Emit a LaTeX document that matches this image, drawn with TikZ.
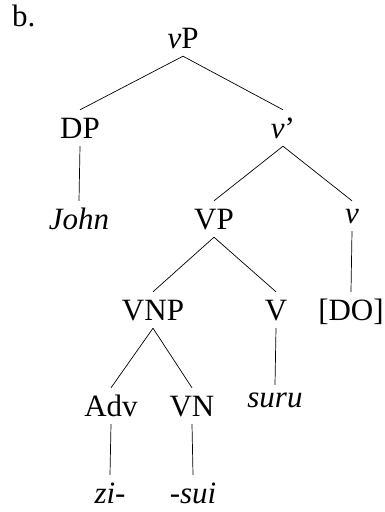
\documentclass[tikz,border=0pt]{standalone}
\usepackage{fontspec}
\setmainfont{Liberation Serif}
\begin{document}
\begin{tikzpicture}[
    x=1pt, y=-1pt,
    cat/.style={anchor=base, inner xsep=0pt, inner ysep=8pt, text height=20pt, text depth=0pt, font=\fontsize{31}{37}\selectfont},
    word/.style={cat, font=\fontsize{31}{37}\selectfont\itshape},
    small/.style={text height=14pt},
    branch/.style={draw, line width=0.7pt}
]
\useasboundingbox (0,0) rectangle (385,512);

% Example label
\node[cat, anchor=base west] (label) at (12,26) {b.};

% Top of the tree
\node[cat] (vP) at (183,48) {\textit{v}P};
\node[cat] (DP) at (80,138) {DP};
\node[cat] (vbar) at (283,138) {\textit{v}’};
\node[word] (john) at (79,229) {John};

% Verb phrase
\node[cat] (VP) at (214,229) {VP};
\node[word, small] (v) at (352,223) {v};
\node[cat] (VNP) at (153,320) {VNP};
\node[cat] (V) at (276,320) {V};
\node[cat] (DO) at (351,320) {[DO]};

% Bottom row
\node[cat] (adv) at (111,416) {Adv};
\node[cat] (VN) at (192,416) {VN};
\node[word, small] (suru) at (275,407) {suru};
\node[word] (zi) at (110,503) {zi-};
\node[word] (sui) at (193,503) {-sui};

% Branches
\draw[branch] (vP.south) -- (DP.north);
\draw[branch] (vP.south) -- (vbar.north);
\draw[branch] (DP.south) -- (john.north);
\draw[branch] (vbar.south) -- (VP.north);
\draw[branch] (vbar.south) -- (v.north);
\draw[branch] (VP.south) -- (VNP.north);
\draw[branch] (VP.south) -- (V.north);
\draw[branch] (v.south) -- (DO.north);
\draw[branch] (VNP.south) -- (adv.north);
\draw[branch] (VNP.south) -- (VN.north);
\draw[branch] (V.south) -- (suru.north);
\draw[branch] (adv.south) -- (zi.north);
\draw[branch] (VN.south) -- (sui.north);

\end{tikzpicture}
\end{document}
